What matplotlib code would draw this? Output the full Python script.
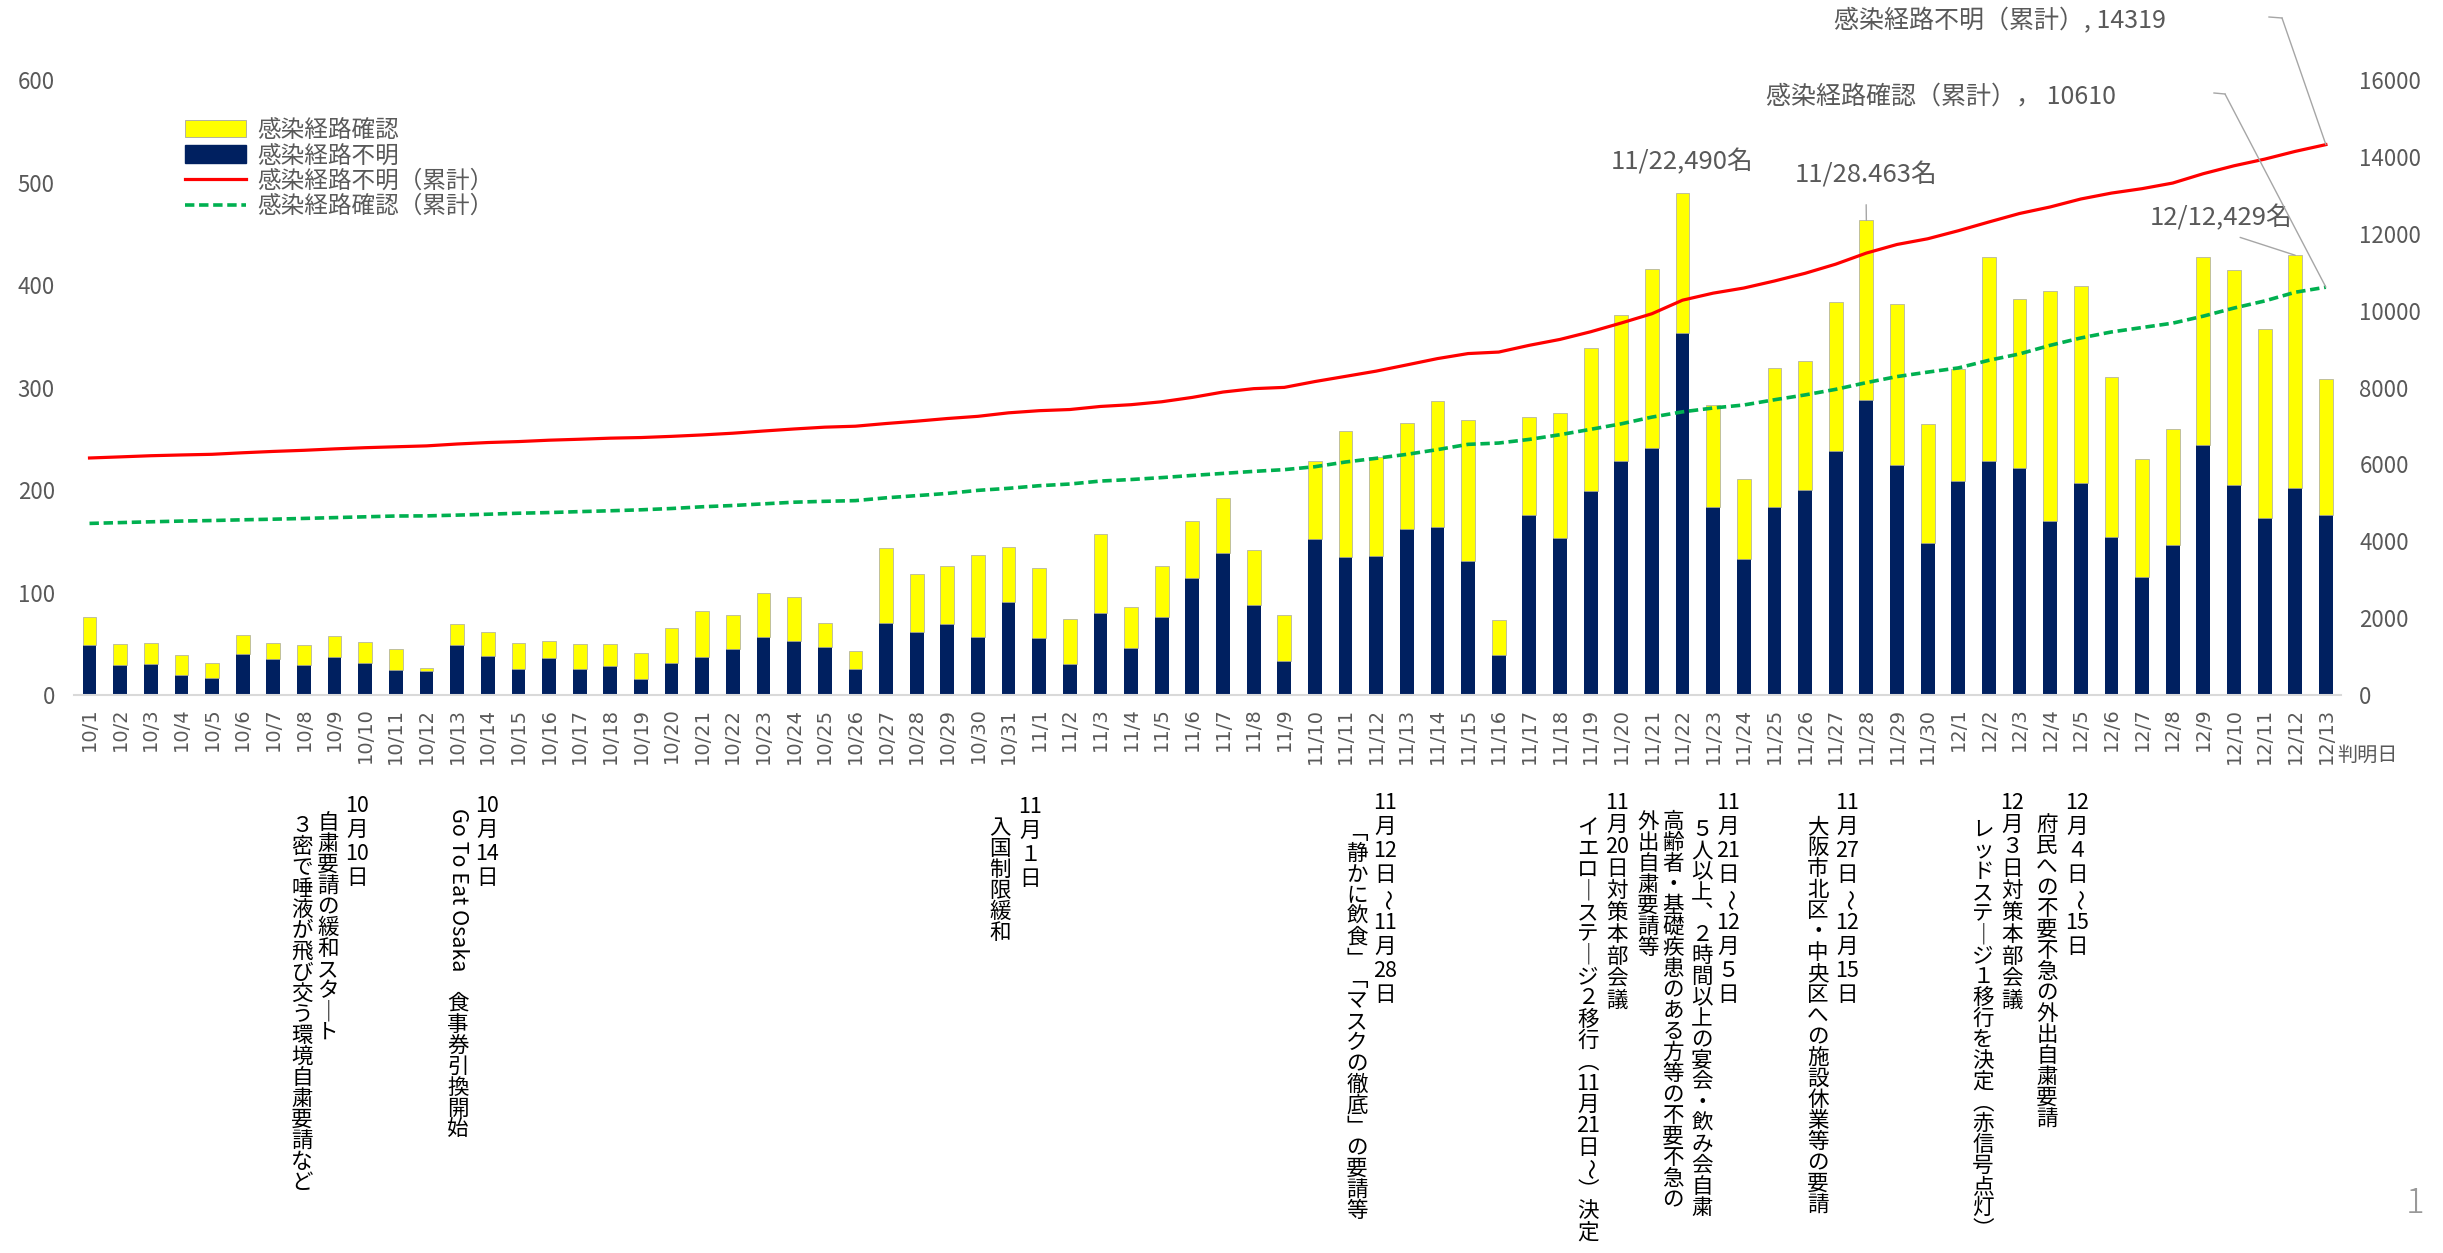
import numpy as np
import matplotlib
matplotlib.use("Agg")
import matplotlib.pyplot as plt
from matplotlib.patches import Patch
from matplotlib.lines import Line2D

plt.rcParams['font.family'] = ['Noto Sans CJK JP', 'DejaVu Sans']

W, H = 2443, 1253

# ---- data ----
month_days = [(10, 31), (11, 30), (12, 13)]
dates = [f"{m}/{d}" for m, n in month_days for d in range(1, n + 1)]

unknown = [49, 29, 30, 20, 17, 40, 35, 29, 37, 31, 24, 23, 49, 38, 25, 36, 25, 28, 16, 31,
           37, 45, 57, 53, 47, 25, 70, 61, 69, 57, 91,
           56, 30, 80, 46, 76, 114, 139, 88, 33, 152, 135, 136, 162, 164, 131, 39, 176, 153, 199,
           228, 241, 353, 183, 133, 183, 200, 238, 288, 224, 148,
           209, 228, 221, 170, 207, 154, 115, 146, 244, 205, 173, 202, 176]

confirmed = [27, 21, 21, 19, 14, 19, 16, 20, 21, 21, 21, 3, 20, 23, 26, 17, 25, 22, 25, 34,
             45, 33, 43, 43, 23, 18, 73, 57, 57, 80, 53,
             68, 44, 77, 40, 50, 56, 53, 53, 45, 76, 123, 96, 103, 123, 137, 34, 95, 122, 140,
             143, 175, 137, 100, 78, 136, 126, 145, 175, 157, 116,
             109, 199, 165, 224, 192, 156, 115, 114, 183, 210, 184, 227, 132]

unknown_cum = [6166, 6195, 6225, 6245, 6262, 6302, 6337, 6366, 6403, 6434, 6458, 6481, 6530, 6568,
               6593, 6629, 6654, 6682, 6698, 6729, 6766, 6811, 6868, 6921, 6968, 6993, 7063, 7124,
               7193, 7250, 7341,
               7397, 7427, 7507, 7553, 7629, 7743, 7882, 7970, 8003, 8155, 8290, 8426, 8588, 8752,
               8883, 8922, 9098, 9251, 9450, 9678, 9919, 10272, 10455, 10588, 10771, 10971, 11209,
               11497, 11721, 11869,
               12078, 12306, 12527, 12697, 12904, 13058, 13173, 13319, 13563, 13768, 13941, 14143, 14319]

confirmed_cum = [4464, 4485, 4506, 4525, 4539, 4558, 4574, 4594, 4615, 4636, 4657, 4660, 4680, 4703,
                 4729, 4746, 4771, 4793, 4818, 4852, 4897, 4930, 4973, 5016, 5039, 5057, 5130, 5187,
                 5244, 5324, 5377,
                 5445, 5489, 5566, 5606, 5656, 5712, 5765, 5818, 5863, 5939, 6062, 6158, 6261, 6384,
                 6521, 6555, 6650, 6772, 6912, 7055, 7230, 7367, 7467, 7545, 7681, 7807, 7952, 8127,
                 8284, 8400,
                 8509, 8708, 8873, 9097, 9289, 9445, 9560, 9674, 9857, 10067, 10251, 10478, 10610]

left_ticks = [0, 100, 200, 300, 400, 500, 600]
right_ticks = [0, 2000, 4000, 6000, 8000, 10000, 12000, 14000, 16000]

# event notes under the chart: (x px, y px of first cell, pitch, text)
notes = [
    (357, 806, 24, "10月10日"),
    (328, 823, 21, "自粛要請の緩和スタート"),
    (302, 826, 21, "３密で唾液が飛び交う環境自粛要請など"),
    (487, 806, 24, "10月14日"),
    (1030, 807, 24, "11月１日"),
    (1000, 828, 21, "入国制限緩和"),
    (1385, 803, 24, "11月12日~11月28日"),
    (1357, 833, 21, "「静かに飲食」「マスクの徹底」の要請等"),
    (1617, 803, 22, "11月20日対策本部会議"),
    (1588, 828, 21.3, "イエローステージ２移行（11月21日~）決定"),
    (1728, 803, 24, "11月21日~12月５日"),
    (1702, 830, 21, "５人以上、２時間以上の宴会・飲み会自粛"),
    (1673, 822, 21, "高齢者・基礎疾患のある方等の不要不急の"),
    (1648, 822, 21, "外出自粛要請等"),
    (1847, 803, 24, "11月27日~12月15日"),
    (1818, 827, 21, "大阪市北区・中央区への施設休業等の要請"),
    (2012, 803, 22, "12月３日対策本部会議"),
    (1983, 830, 21, "レッドステージ１移行を決定（赤信号点灯）"),
    (2077, 803, 24, "12月４日~15日"),
    (2047, 825, 21, "府民への不要不急の外出自粛要請"),
]

NAVY = '#002060'
YELLOW = '#FFFF00'
GRAY = '#595959'

x = np.arange(len(dates))

fig = plt.figure(figsize=(W / 100, H / 100), dpi=100)
ax = fig.add_axes([74.2 / W, 1 - 695 / H, 2267 / W, 615 / H])
ax2 = ax.twinx()

ax.bar(x, unknown, width=0.45, color=NAVY, label='感染経路不明', zorder=2)
ax.bar(x, confirmed, width=0.45, bottom=unknown, color=YELLOW,
       edgecolor='#A6A6A6', linewidth=0.5, label='感染経路確認', zorder=2)

ax2.plot(x, unknown_cum, color='#FF0000', lw=2.3, label='感染経路不明（累計）')
ax2.plot(x, confirmed_cum, color='#00B050', lw=2.6, dashes=(2.6, 1.3), label='感染経路確認（累計）')

ax.set_xlim(-0.5, len(dates) - 0.5)
ax.set_ylim(0, 600)
ax2.set_ylim(0, 16000)
ax.set_yticks(left_ticks)
ax2.set_yticks(right_ticks)
ax.set_xticks(x)
ax.set_xticklabels(dates, rotation=90, family='DejaVu Sans', fontsize=14, color=GRAY)
ax.tick_params(axis='x', length=0, pad=9)
ax.tick_params(axis='y', length=0, pad=14, labelsize=16, labelcolor=GRAY)
ax2.tick_params(axis='y', length=0, pad=13, labelsize=16, labelcolor=GRAY)

for a in (ax, ax2):
    for s in ('top', 'left', 'right', 'bottom'):
        a.spines[s].set_visible(False)
ax.spines['bottom'].set_visible(True)
ax.spines['bottom'].set_color('#D9D9D9')
ax.spines['bottom'].set_linewidth(1.5)

# legend
handles = [Patch(facecolor=YELLOW, edgecolor='#A6A6A6', linewidth=0.6),
           Patch(facecolor=NAVY, edgecolor=NAVY),
           Line2D([], [], color='#FF0000', lw=2.3),
           Line2D([], [], color='#00B050', lw=2.6, dashes=(2.6, 1.3))]
labels = ['感染経路確認', '感染経路不明', '感染経路不明（累計）', '感染経路確認（累計）']
leg = ax2.legend(handles, labels, loc='upper left', bbox_to_anchor=(185 / W, 1 - 119 / H),
                 bbox_transform=fig.transFigure, frameon=False, fontsize=17,
                 handlelength=2.6, handleheight=0.75, handletextpad=0.45, labelspacing=0.1,
                 borderpad=0, borderaxespad=0)
for t in leg.get_texts():
    t.set_color(GRAY)


def fp(px, py):
    return (px, H - py)


lead = dict(arrowstyle='-', color='#A6A6A6', lw=1.0, shrinkA=0, shrinkB=0)

ax.annotate('11/22,490名', xy=fp(1682, 162), xycoords='figure pixels',
            ha='center', va='center', fontsize=18.5, color=GRAY)
ax.annotate('11/28.463名', xy=(58, unknown[58] + confirmed[58]), xytext=fp(1866, 175),
            textcoords='figure pixels', ha='center', va='center', fontsize=18.5, color=GRAY,
            arrowprops=dict(lead, relpos=(0.5, 0), shrinkA=10))
ax.annotate('12/12,429名', xy=(72, unknown[72] + confirmed[72]), xytext=fp(2221, 218),
            textcoords='figure pixels', ha='center', va='center', fontsize=18.5, color=GRAY,
            arrowprops=dict(lead, relpos=(0.5, 0), shrinkA=8))

fig.text(2000 / W, 1 - 21 / H, '感染経路不明（累計）, 14319', ha='center', va='center',
         fontsize=18, color=GRAY)
fig.text(1941 / W, 1 - 96 / H, '感染経路確認（累計）， 10610', ha='center', va='center',
         fontsize=18, color=GRAY)
fig.add_artist(Line2D([2269 / W, 2282 / W], [1 - 17 / H, 1 - 18 / H], color='#A6A6A6', lw=1.0))
fig.add_artist(Line2D([2214 / W, 2225 / W], [1 - 93 / H, 1 - 94 / H], color='#A6A6A6', lw=1.0))
ax2.annotate('', xy=(73, unknown_cum[-1]), xytext=fp(2282, 18), textcoords='figure pixels',
             arrowprops=lead, annotation_clip=False)
ax2.annotate('', xy=(73, confirmed_cum[-1]), xytext=fp(2225, 94), textcoords='figure pixels',
             arrowprops=lead, annotation_clip=False)

fig.text(2337 / W, 1 - 755 / H, '判明日', ha='left', va='center', fontsize=14.5, color=GRAY)
fig.text(2415 / W, 1 - 1203 / H, '1', ha='center', va='center', fontsize=25,
         color='#999999', fontweight='light')

# vertical (tategaki) notes
VMAP = {'「': '\ufe41', '」': '\ufe42', '（': '\ufe35', '）': '\ufe36',
        'ー': '｜', '、': '\ufe11'}


def cells(s):
    out = []
    i = 0
    while i < len(s):
        if s[i].isascii() and s[i].isdigit():
            j = i
            while j < len(s) and s[j].isascii() and s[j].isdigit():
                j += 1
            out.append(s[i:j])
            i = j
        else:
            out.append(VMAP.get(s[i], s[i]))
            i += 1
    return out


def put_cell(cx, cy, c):
    if c == '~':
        fig.text(cx / W, 1 - cy / H, '〜', rotation=-90, ha='center', va='center',
                 fontsize=15, color='black')
    else:
        fig.text(cx / W, 1 - cy / H, c, ha='center', va='center',
                 fontsize=15.5, color='black')


for nx, ny, pitch, s in notes:
    for k, c in enumerate(cells(s)):
        put_cell(nx, ny + k * pitch, c)

# Go To Eat column: latin part runs sideways, kanji upright
fig.text(458 / W, 1 - 808 / H, 'Go To Eat Osaka', rotation=-90, ha='center', va='top',
         fontsize=15.5, color='black')
for k, c in enumerate(cells('食事券引換開始')):
    put_cell(458, 1004 + k * 21, c)

fig.savefig('out.png', dpi=100)
